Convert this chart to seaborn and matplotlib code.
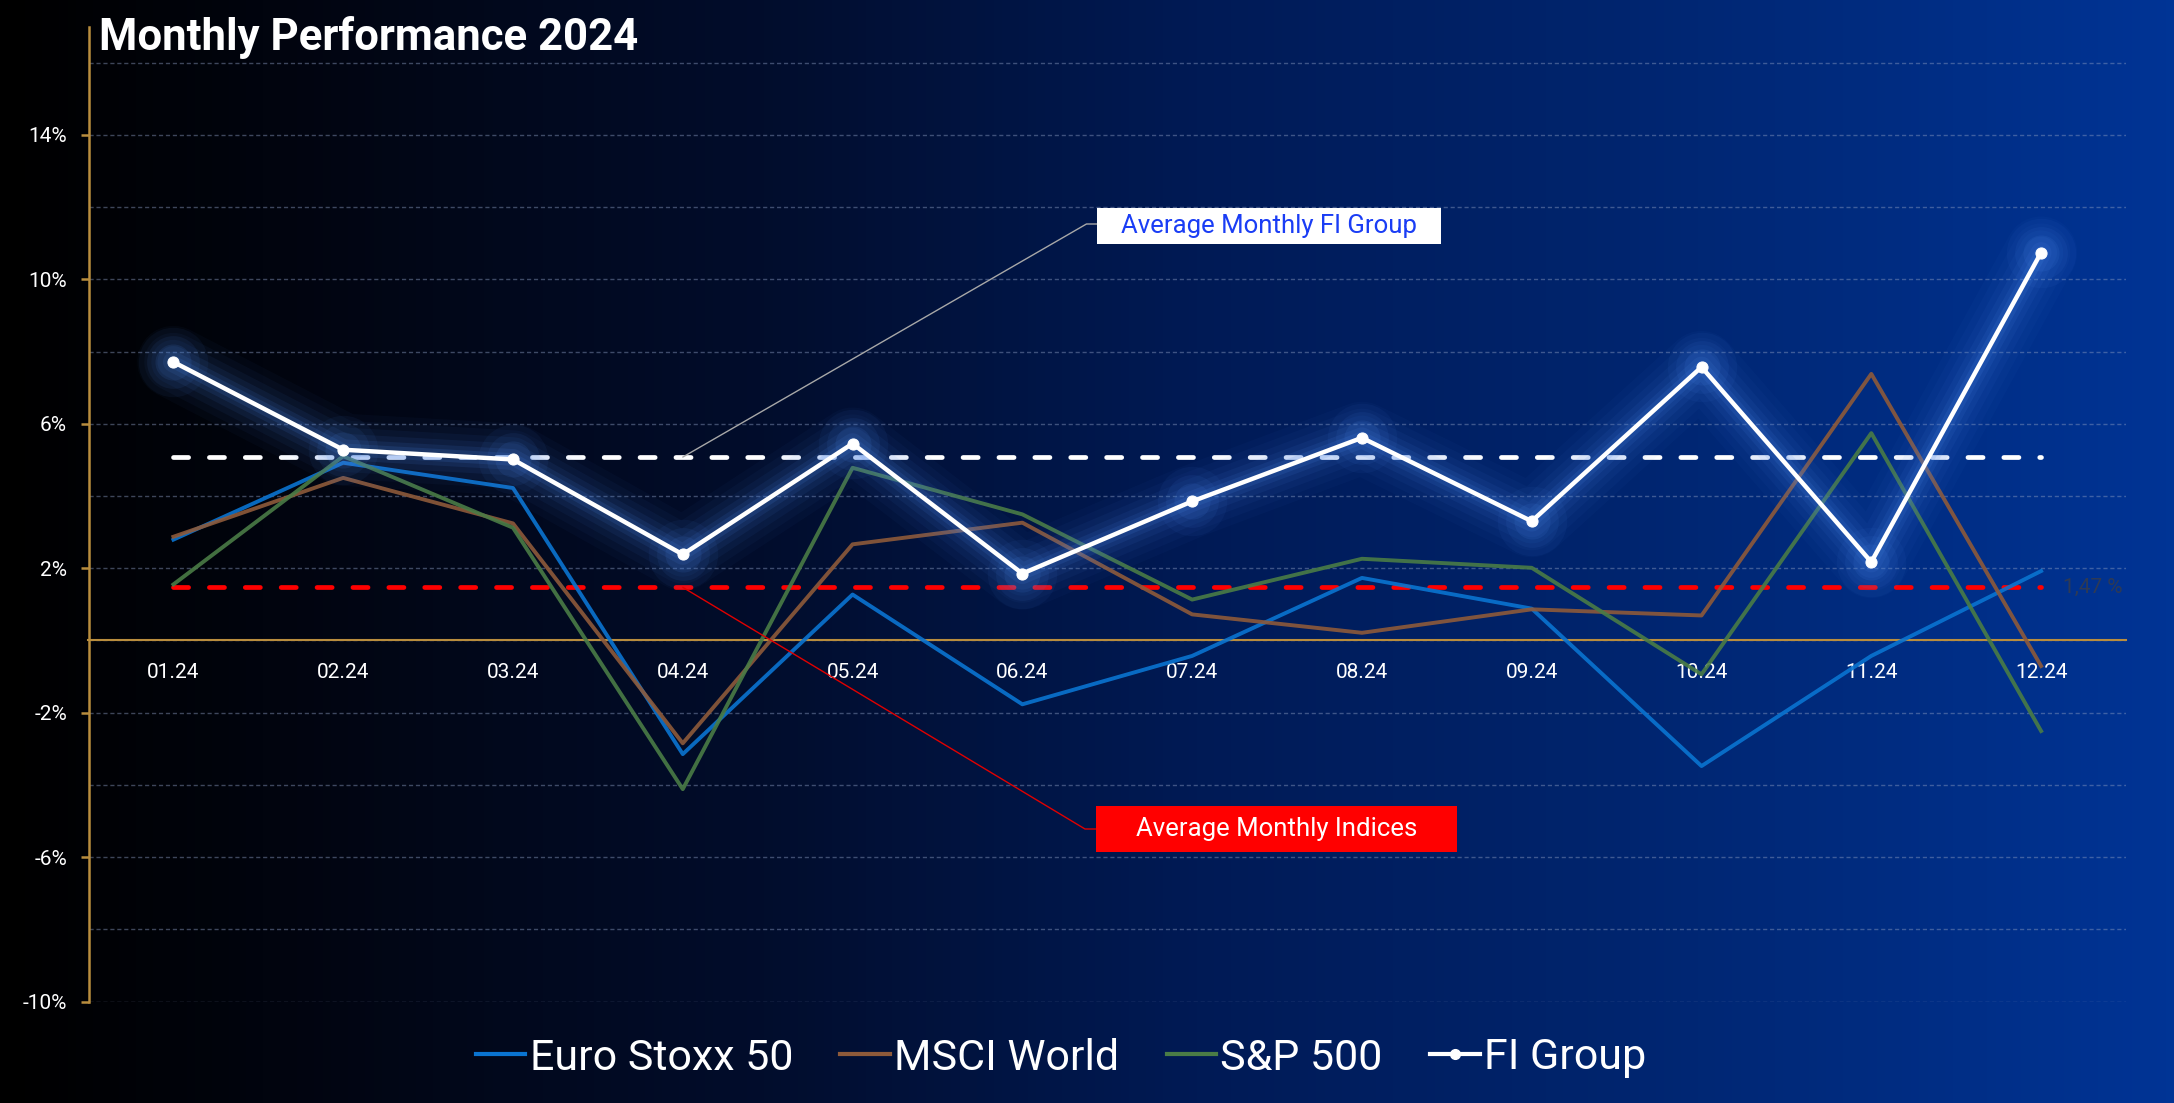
import numpy as np
import pandas as pd
import matplotlib
matplotlib.use("Agg")
import matplotlib.pyplot as plt
import seaborn as sns
from matplotlib.lines import Line2D
from matplotlib.patches import Rectangle
from matplotlib.colors import LinearSegmentedColormap

# ---------------- data ----------------
months = ["01.24", "02.24", "03.24", "04.24", "05.24", "06.24",
          "07.24", "08.24", "09.24", "10.24", "11.24", "12.24"]
euro_stoxx = [2.79, 4.92, 4.22, -3.15, 1.27, -1.77, -0.43, 1.73, 0.88, -3.48, -0.43, 1.92]
msci_world = [2.87, 4.50, 3.24, -2.85, 2.66, 3.26, 0.72, 0.21, 0.86, 0.69, 7.38, -0.71]
sp500 = [1.55, 5.10, 3.12, -4.12, 4.78, 3.49, 1.13, 2.26, 2.01, -0.94, 5.74, -2.51]
fi_group = [7.71, 5.28, 5.01, 2.38, 5.45, 1.85, 3.85, 5.61, 3.30, 7.57, 2.17, 10.74]
index_names = ["Euro Stoxx 50", "MSCI World", "S&P 500"]
fi_name = "FI Group"
y_label_ticks = [-10, -6, -2, 2, 6, 10, 14]
y_grid_ticks = [-8, -4, 0, 4, 8, 12, 16]
title = "Monthly Performance 2024"
avg_fi_label = "Average Monthly FI Group"
avg_idx_label = "Average Monthly Indices"

colors = {"Euro Stoxx 50": "#0a74d1", "MSCI World": "#8e5a3a", "S&P 500": "#4a7c46"}

df_idx = pd.DataFrame({
    "x": list(range(len(months))) * 3,
    "value": euro_stoxx + msci_world + sp500,
    "series": sum([[n] * len(months) for n in index_names], []),
})
df_fi = pd.DataFrame({"x": list(range(len(months))), "value": fi_group})

avg_fi = float(np.mean(fi_group))
avg_idx = float(np.mean(euro_stoxx + msci_world + sp500))

# ---------------- figure ----------------
W, H = 2174, 1103
fig = plt.figure(figsize=(W / 100, H / 100), dpi=100)
plt.rcParams["font.family"] = ["Roboto", "DejaVu Sans"]

# background gradient
bg = fig.add_axes([0, 0, 1, 1], zorder=-10)
cmap = LinearSegmentedColormap.from_list(
    "bg", [(0.0, "#000000"), (0.12, "#01040e"), (0.35, "#020d2c"),
           (0.55, "#001a55"), (0.75, "#00256f"), (1.0, "#003495")])
grad = np.linspace(0, 1, 512)[None, :]
grad = np.repeat(grad, 4, axis=0)
bg.imshow(grad, aspect="auto", cmap=cmap, extent=[0, 1, 0, 1])
bg.set_axis_off()

ax = fig.add_axes([88.5 / W, 1 - 1001.5 / H, (2126 - 88.5) / W, (1001.5 - 26.5) / H])
ax.set_facecolor("none")

gold = "#b98d3e"

# average lines
xs = np.arange(len(months))
ax.plot([xs[0], xs[-1]], [avg_fi, avg_fi], color="white", lw=3.4,
        dashes=(3.2, 4.4), dash_capstyle="round", zorder=2)
ax.plot([xs[0], xs[-1]], [avg_idx, avg_idx], color="#ff0000", lw=3.4,
        dashes=(3.2, 4.4), dash_capstyle="round", zorder=2)

# index lines
sns.lineplot(data=df_idx, x="x", y="value", hue="series", palette=colors,
             hue_order=index_names, linewidth=2.8, alpha=0.9, legend=False,
             ax=ax, zorder=3)

# glow for FI line
for lw, a in [(52, 0.035), (42, 0.045), (32, 0.06), (23, 0.08), (15, 0.11), (9, 0.14)]:
    ax.plot(df_fi["x"], df_fi["value"], color="#4a86e8", lw=lw, alpha=a,
            solid_capstyle="round", solid_joinstyle="round", zorder=4)
for ms, a in [(50, 0.06), (38, 0.08), (26, 0.11)]:
    ax.plot(df_fi["x"], df_fi["value"], ls="none", marker="o", ms=ms,
            color="#4a86e8", alpha=a, mec="none", zorder=4)

sns.lineplot(data=df_fi, x="x", y="value", color="white", linewidth=3.2,
             marker="o", markersize=8, markeredgecolor="white", ax=ax, zorder=5)

# ---------------- axes styling ----------------
ax.set_xlim(-0.5, len(months) - 0.5)
ax.set_ylim(-10, 17)
ax.set_yticks(y_label_ticks)
ax.set_yticklabels([f"{v}%" for v in y_label_ticks])
ax.set_yticks(y_grid_ticks, minor=True)
ax.set_xticks(xs)
ax.set_xticklabels(months)
ax.set_xlabel("")
ax.set_ylabel("")

ax.grid(True, which="both", axis="y", color="#8a9bc0", alpha=0.45, lw=1,
        dashes=(3, 2))
ax.grid(False, axis="x")
ax.set_axisbelow(True)

for s in ["top", "right"]:
    ax.spines[s].set_visible(False)
ax.spines["left"].set_color(gold)
ax.spines["left"].set_linewidth(1.8)
ax.spines["bottom"].set_position(("data", 0))
ax.spines["bottom"].set_color(gold)
ax.spines["bottom"].set_linewidth(1.5)

ax.tick_params(axis="y", which="major", colors=gold, length=5.5, width=1.8,
               labelcolor="white", labelsize=15, pad=10)
ax.tick_params(axis="y", which="minor", length=0)
ax.tick_params(axis="x", length=0, labelcolor="white", labelsize=15, pad=16)

# ---------------- texts ----------------
fig.text(99 / W, 1 - 50 / H, title, color="white", fontsize=31.5,
         fontweight="bold", ha="left", va="baseline")

ax.annotate(f"{avg_idx:.2f} %".replace(".", ","), xy=(xs[-1], avg_idx),
            xytext=(16, 0), textcoords="offset points", ha="left", va="center",
            color="#2e3a55", fontsize=15, zorder=6)

# annotation boxes
fig.patches.append(Rectangle((1097 / W, 1 - 244 / H), (1441 - 1097) / W, 36 / H,
                             transform=fig.transFigure, facecolor="white",
                             edgecolor="none", zorder=8))
fig.text((1097 + 1441) / 2 / W, 1 - 226 / H, avg_fi_label, color="#1a3df5",
         fontsize=18.5, ha="center", va="center", zorder=9)
fig.patches.append(Rectangle((1096 / W, 1 - 852 / H), (1457 - 1096) / W, 46 / H,
                             transform=fig.transFigure, facecolor="#ff0000",
                             edgecolor="none", zorder=8))
fig.text((1096 + 1457) / 2 / W, 1 - 829 / H, avg_idx_label, color="white",
         fontsize=18.5, ha="center", va="center", zorder=9)

ax.annotate("", xy=(3, avg_fi), xycoords="data",
            xytext=(1097 / W, 1 - 224 / H), textcoords="figure fraction",
            arrowprops=dict(arrowstyle="-", color="#a8a8a8", lw=1,
                            shrinkA=0, shrinkB=0,
                            connectionstyle="angle,angleA=0,angleB=30"),
            zorder=6, annotation_clip=False)
ax.annotate("", xy=(3, avg_idx), xycoords="data",
            xytext=(1096 / W, 1 - 829 / H), textcoords="figure fraction",
            arrowprops=dict(arrowstyle="-", color="#e00000", lw=1,
                            shrinkA=0, shrinkB=0,
                            connectionstyle="angle,angleA=0,angleB=-31"),
            zorder=6, annotation_clip=False)

# legend
handles = [Line2D([], [], color=colors[n], lw=3) for n in index_names]
handles.append(Line2D([], [], color="white", lw=3, marker="o", markersize=7))
leg = fig.legend(handles, index_names + [fi_name], loc="center",
                 bbox_to_anchor=(1061 / W, 1 - 1058 / H), ncol=4, frameon=False,
                 fontsize=31, handlelength=1.15, handletextpad=0.1,
                 columnspacing=1.1, labelcolor="white")

fig.savefig("out.png", dpi=100)
